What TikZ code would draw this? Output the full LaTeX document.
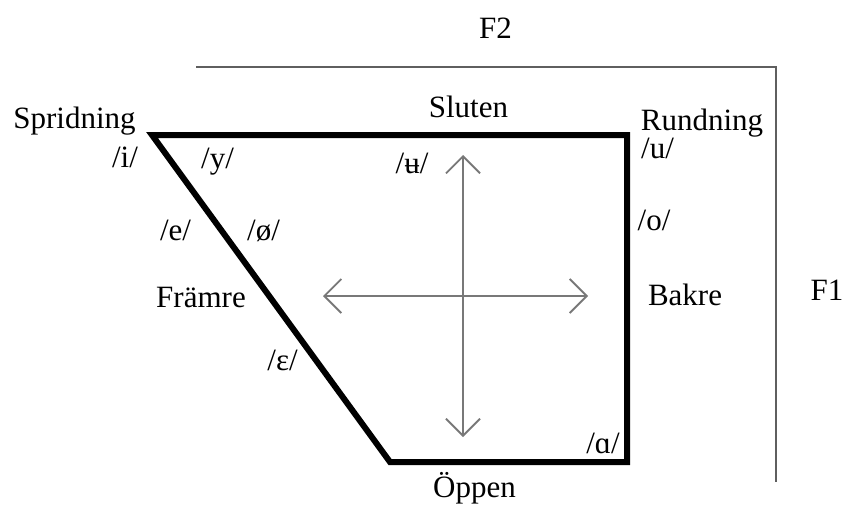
\documentclass[tikz,border=0pt]{standalone}
\usepackage{fontspec}
\setmainfont{Liberation Serif}
\usetikzlibrary{arrows.meta}
\definecolor{axisgray}{RGB}{95,95,95}
\definecolor{arrowgray}{RGB}{120,120,120}
\tikzset{
  lbl/.style={anchor=base, inner sep=0pt, font=\fontsize{31}{31}\selectfont},
  chart/.style={line width=6pt, line join=miter, black},
  axisline/.style={line width=1.6pt, axisgray},
  dirarrow/.style={line width=1.8pt, arrowgray, {Straight Barb[length=17pt,width=34pt,line width=1.8pt]}-{Straight Barb[length=17pt,width=34pt,line width=1.8pt]}}
}
\begin{document}
\begin{tikzpicture}[x=1pt,y=-1pt]
\useasboundingbox (0,0) rectangle (845,504);
% axis
\coordinate (axL) at (196,67);
\coordinate (axC) at (776,67);
\coordinate (axB) at (776,482);
\draw[axisline] (axL) -- (axC) -- (axB);
% trapezoid
\coordinate (tl) at (152,135);
\coordinate (tr) at (627,135);
\coordinate (br) at (627,462);
\coordinate (bl) at (390,462);
\draw[chart] (tl) -- (tr) -- (br) -- (bl) -- cycle;
% arrows
\coordinate (up) at (463,155);
\coordinate (dn) at (463,437);
\coordinate (lf) at (323,296);
\coordinate (rt) at (588,296);
\draw[dirarrow] (up) -- (dn);
\draw[dirarrow] (lf) -- (rt);
% labels
\node[lbl] (f2) at (495.5,38) {F2};
\node[lbl] (sluten) at (468.5,117) {Sluten};
\node[lbl] (sprid) at (74.5,128) {Spridning};
\node[lbl] (rund) at (702,130) {Rundning};
\node[lbl] (vi) at (125,167) {/i/};
\node[lbl] (vy) at (217.5,168) {/y/};
\node[lbl] (vub) at (412,173) {/ʉ/};
\node[lbl] (vu) at (657.5,158) {/u/};
\node[lbl] (ve) at (175.5,240) {/e/};
\node[lbl] (voe) at (263.5,240) {/ø/};
\node[lbl] (vo) at (654,230) {/o/};
\node[lbl] (framre) at (201,307) {Främre};
\node[lbl] (bakre) at (685,305) {Bakre};
\node[lbl] (f1) at (827,300) {F1};
\node[lbl] (veps) at (282.5,370) {/ɛ/};
\node[lbl] (va) at (603,453) {/ɑ/};
\node[lbl] (oppen) at (474.5,497) {Öppen};
\end{tikzpicture}
\end{document}
